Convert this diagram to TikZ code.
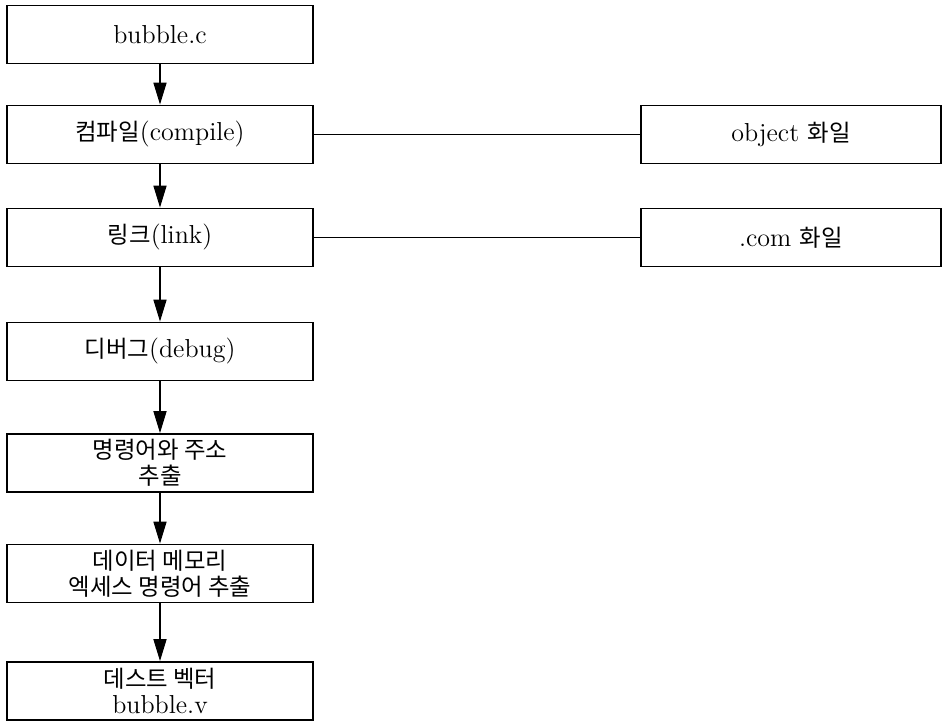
\documentclass[tikz,border=0pt]{standalone}
\usepackage{fontspec}
\usepackage{tikz}
\usetikzlibrary{arrows.meta}
\newfontfamily\kr{Noto Sans CJK KR}[Scale=0.9]
\newcommand{\hg}[1]{{\kr #1}}

\begin{document}
\begin{tikzpicture}[x=0.5pt,y=-0.5pt,
  box/.style={draw, line width=0.9pt, minimum width=153pt, minimum height=29pt,
    inner sep=0pt, align=center, font=\fontsize{13}{14}\selectfont},
  side/.style={box, minimum width=150pt},
  flow/.style={line width=0.8pt, -{Triangle[length=11pt,width=6.5pt]}},
  link/.style={line width=0.8pt}]
\useasboundingbox (0,0) rectangle (942,723);
\node[box] (src) at (160,34.5) {bubble.c};
\node[box] (comp) at (160,134.5) {\hg{컴파일}(compile)};
\node[box] (lnk) at (160,237.5) {\hg{링크}(link)};
\node[box] (dbg) at (160,351.5) {\hg{디버그}(debug)};
\node[box] (ext) at (160,463) {\hg{명령어와 주소}\\[-1pt]\hg{추출}};
\node[box] (mem) at (160,573.5) {\hg{데이터 메모리}\\[-1pt]\hg{엑세스 명령어 추출}};
\node[box] (vec) at (160,691) {\hg{데스트 벡터}\\[-1pt]bubble.v};
\node[side] (obj) at (791,134.5) {object \hg{화일}};
\node[side] (com) at (791,237.5) {.com \hg{화일}};
\draw[flow] (src) -- (comp);
\draw[flow] (comp) -- (lnk);
\draw[flow] (lnk) -- (dbg);
\draw[flow] (dbg) -- (ext);
\draw[flow] (ext) -- (mem);
\draw[flow] (mem) -- (vec);
\draw[link] (comp) -- (obj);
\draw[link] (lnk) -- (com);
\end{tikzpicture}
\end{document}
